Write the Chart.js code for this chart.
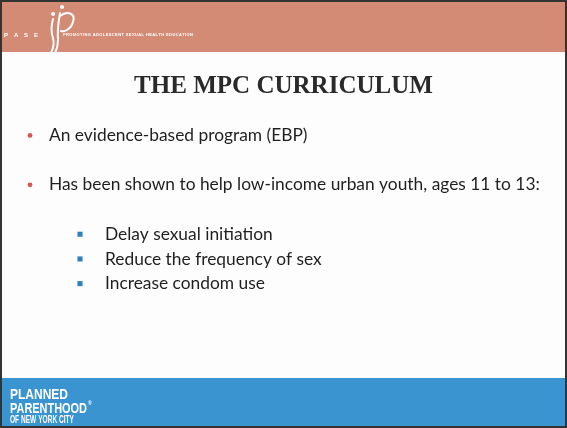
<!DOCTYPE html>
<html><head><meta charset="utf-8">
<script src="https://cdn.jsdelivr.net/npm/chart.js@4.4.1/dist/chart.umd.min.js"></script>
<style>html,body{margin:0;padding:0;background:#fff;}canvas{display:block;}</style>
</head><body>
<canvas id="c" width="567" height="428"></canvas>
<script>
// ---- content ----
const slideTitle = 'THE MPC CURRICULUM';
const bulletTexts = [
  'An evidence-based program (EBP)',
  'Has been shown to help low-income urban youth, ages 11 to 13:',
  'Delay sexual initiation',
  'Reduce the frequency of sex',
  'Increase condom use'
];
const bulletLevels = [1, 1, 2, 2, 2];
const bulletRows = [0, 2, 4, 5, 6];
const headerLetters = ['P', 'A', 'S', 'E'];
const headerTagline = 'PROMOTING ADOLESCENT SEXUAL HEALTH EDUCATION';
const footerLines = ['PLANNED', 'PARENTHOOD', 'OF NEW YORK CITY'];

// ---- styles ----
const SALMON = '#d38b76';
const BLUE = '#3994cf';
const BODY_FONT = 'Lato';
const TITLE_FONT = 'Liberation Serif';

const mctx = document.createElement('canvas').getContext('2d');
function fitSize(text, font, target) {
  mctx.font = font.replace('SIZE', '100px');
  return 100 * target / mctx.measureText(text).width;
}
const titleSize = fitSize(slideTitle, 'bold SIZE "' + TITLE_FONT + '"', 299);
const bodySize = fitSize(bulletTexts[1], 'SIZE "' + BODY_FONT + '"', 491);

const datasets = [1, 2].map(level => {
  const idx = bulletTexts.map((t, i) => i).filter(i => bulletLevels[i] === level);
  return {
    label: 'level ' + level,
    data: idx.map(i => ({ x: level, y: bulletRows[i], text: bulletTexts[i] })),
    pointStyle: level === 1 ? 'circle' : 'rect',
    pointRadius: level === 1 ? 2.4 : 3.6,
    pointHoverRadius: level === 1 ? 2.4 : 3.6,
    backgroundColor: level === 1 ? '#d4574b' : '#2f7fc0',
    borderWidth: 0,
    textOffset: level === 1 ? 19 : 25,
    clip: false
  };
});

const slidePlugin = {
  id: 'slide',
  beforeDraw(chart) {
    const ctx = chart.ctx, W = chart.width, H = chart.height;
    ctx.save();
    ctx.fillStyle = '#fdfdfd';
    ctx.fillRect(0, 0, W, H);
    // header band
    ctx.fillStyle = SALMON;
    ctx.fillRect(0, 0, W, 52);
    // footer band
    ctx.fillStyle = BLUE;
    ctx.fillRect(0, 378, W, H - 378);
    // header letters
    ctx.fillStyle = '#ffffff';
    ctx.font = 'bold 6px "Liberation Sans"';
    ctx.textBaseline = 'alphabetic';
    headerLetters.forEach((l, i) => ctx.fillText(l, 4 + i * 10, 37));
    // logo
    ctx.strokeStyle = '#ffffff';
    ctx.lineWidth = 2;
    ctx.lineCap = 'round';
    ctx.beginPath(); ctx.arc(62, 7, 2, 0, Math.PI * 2); ctx.fill();
    ctx.beginPath(); ctx.arc(53, 14, 2, 0, Math.PI * 2); ctx.fill();
    ctx.beginPath();
    ctx.moveTo(53, 19); ctx.quadraticCurveTo(50, 30, 53, 38); ctx.quadraticCurveTo(55, 45, 51, 53);
    ctx.stroke();
    ctx.beginPath();
    ctx.moveTo(60, 13); ctx.quadraticCurveTo(57, 30, 58, 40); ctx.quadraticCurveTo(58, 47, 55, 53);
    ctx.stroke();
    ctx.beginPath();
    ctx.moveTo(60, 16); ctx.bezierCurveTo(68, 10, 76, 14, 73, 22); ctx.bezierCurveTo(71, 29, 65, 32, 61, 31);
    ctx.stroke();
    // tagline
    ctx.font = 'bold 4px "Liberation Sans"';
    const chars = headerTagline.split('');
    const raw = chars.reduce((s, c) => s + ctx.measureText(c).width, 0);
    const gap = (130 - raw) / (chars.length - 1);
    let tx = 63;
    chars.forEach(c => { ctx.fillText(c, tx, 35.5); tx += ctx.measureText(c).width + gap; });
    // footer text
    ctx.font = 'bold 15px "Liberation Sans Narrow", "Liberation Sans"';
    ctx.fillText(footerLines[0], 10, 399, 58);
    ctx.fillText(footerLines[1], 10, 412.5, 77);
    ctx.font = 'bold 5px "Liberation Sans"';
    ctx.fillText('®', 88, 405);
    ctx.font = 'bold 10px "Liberation Sans Narrow", "Liberation Sans"';
    ctx.fillText(footerLines[2], 10, 423, 64);
    // frame
    ctx.strokeStyle = '#333333';
    ctx.lineWidth = 3;
    ctx.strokeRect(0.5, 0.5, W - 1, H - 1);
    ctx.restore();
  },
  afterDatasetsDraw(chart) {
    const ctx = chart.ctx;
    ctx.save();
    ctx.fillStyle = '#1f1f1f';
    ctx.font = bodySize + 'px "' + BODY_FONT + '"';
    ctx.textBaseline = 'middle';
    chart.data.datasets.forEach((ds, di) => {
      chart.getDatasetMeta(di).data.forEach((pt, i) => {
        ctx.fillText(ds.data[i].text, pt.x + ds.textOffset, pt.y);
      });
    });
    ctx.restore();
  }
};

new Chart(document.getElementById('c'), {
  type: 'scatter',
  data: { datasets },
  options: {
    responsive: false,
    animation: false,
    devicePixelRatio: 1,
    layout: { autoPadding: false, padding: { left: 0, right: 0, top: 0, bottom: 132 } },
    scales: {
      x: { type: 'linear', display: false, min: 0.4, max: 0.4 + 567 / 50 },
      y: { type: 'linear', display: false, min: -0.5, max: 6.5, reverse: true }
    },
    plugins: {
      legend: { display: false },
      tooltip: { enabled: false },
      title: {
        display: true,
        text: slideTitle,
        color: '#2a2a2a',
        font: { family: TITLE_FONT, weight: 'bold', size: titleSize, lineHeight: 1.2 },
        padding: { top: 72, bottom: 21 }
      }
    }
  },
  plugins: [slidePlugin]
});
</script>
</body></html>
